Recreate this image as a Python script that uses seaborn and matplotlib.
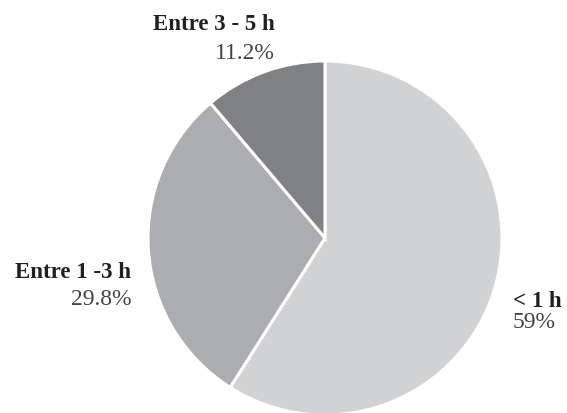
import matplotlib
matplotlib.use('Agg')
import matplotlib.pyplot as plt
import seaborn as sns

# data
categories = ['< 1 h', 'Entre 1 -3 h', 'Entre 3 - 5 h']
shares = [59, 29.8, 11.2]
pct_labels = ['59%', '29.8%', '11.2%']
colors = ['#d1d2d4', '#acadb0', '#808184']

sns.set_style('white')
plt.rcParams['font.family'] = ['Liberation Serif', 'DejaVu Serif']

fig = plt.figure(figsize=(5.67, 4.13), dpi=100)
ax = fig.add_axes([0, 0, 1, 1])

ax.pie(shares, colors=colors, startangle=90, counterclock=False,
       center=(325, -238), radius=177,
       wedgeprops={'edgecolor': 'white', 'linewidth': 2.2})

# pie() resets the limits, so set them afterwards
ax.set_xlim(0, 567)
ax.set_ylim(-413, 0)
ax.set_aspect('equal')
ax.axis('off')

# label positions (x, title baseline, pct baseline, alignment)
label_pos = [(513, -307, -328, 'left'),
             (131, -278, -305, 'right'),
             (275, -30, -59, 'right')]

for cat, pct, (x, yt, yp, ha) in zip(categories, pct_labels, label_pos):
    ax.text(x, yt, cat, ha=ha, va='baseline', fontsize=16.5,
            fontweight='bold', color='#231f20')
    ax.text(x, yp, pct, ha=ha, va='baseline', fontsize=17,
            color='#444444')

fig.savefig('out.png', dpi=100)
